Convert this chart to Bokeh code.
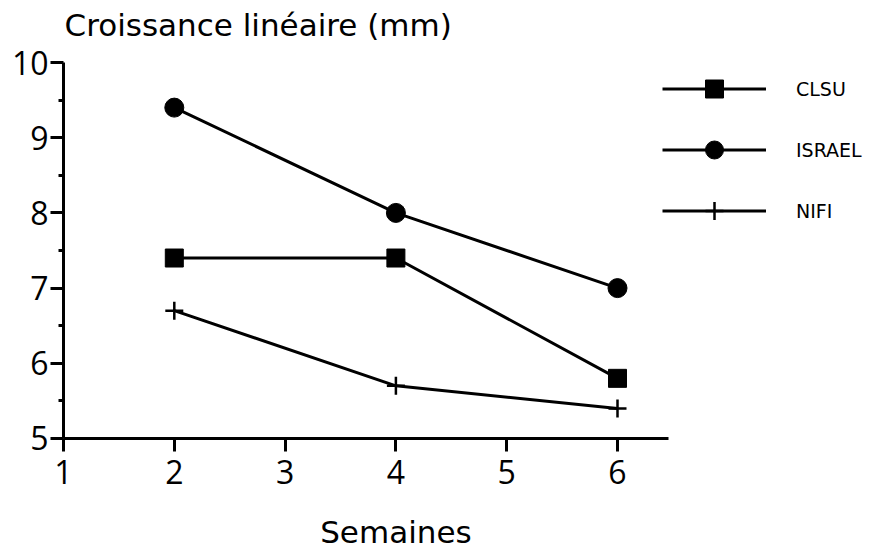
from bokeh.plotting import figure
from bokeh.models import Range1d, Legend, LegendItem, FixedTicker, Label
from bokeh.embed import file_html
from bokeh.resources import INLINE

# Weeks after planting and linear growth (mm) per variety
weeks = [2, 4, 6]
clsu = [7.4, 7.4, 5.8]
israel = [9.4, 8.0, 7.0]
nifi = [6.7, 5.7, 5.4]

x_ticks = [1, 2, 3, 4, 5, 6]
y_ticks = [5, 6, 7, 8, 9, 10]
y_minor = [5.5, 6.5, 7.5, 8.5, 9.5]

TICK_FONT = "Open Sans"
TEXT_FONT = "DejaVu Sans"

# The frame fills the whole canvas; axes are pinned at x=1 / y=5 and
# limited to their visible spans with `bounds`.
p = figure(width=883, height=550, output_backend="svg", toolbar_location=None,
           x_range=Range1d(0.4314, 8.4007), y_range=Range1d(3.5106, 10.8245),
           min_border_left=0, min_border_right=0, min_border_top=0,
           min_border_bottom=0, title=None)
p.outline_line_color = None
p.grid.visible = False
p.background_fill_color = "white"
p.border_fill_color = "white"

for ax in (p.xaxis[0], p.yaxis[0]):
    ax.axis_line_width = 3
    ax.axis_line_color = "black"
    ax.major_tick_line_width = 3
    ax.minor_tick_line_width = 3
    ax.major_tick_line_color = "black"
    ax.minor_tick_line_color = "black"
    ax.major_tick_in = 0
    ax.minor_tick_in = 0
    ax.major_label_text_font = TICK_FONT
    ax.major_label_text_font_size = "32px"
    ax.major_label_text_color = "black"

p.xaxis.ticker = FixedTicker(ticks=x_ticks)
p.xaxis.bounds = (1, 6.46)
p.xaxis.fixed_location = 5
p.xaxis.major_tick_out = 13
p.xaxis.minor_tick_out = 0
p.xaxis.major_label_standoff = 9

p.yaxis.ticker = FixedTicker(ticks=y_ticks, minor_ticks=y_minor)
p.yaxis.bounds = (5, 10)
p.yaxis.fixed_location = 1
p.yaxis.major_tick_out = 13
p.yaxis.minor_tick_out = 5
p.yaxis.major_label_standoff = 2

series = [("CLSU", clsu, "square", 18), ("ISRAEL", israel, "circle", 19),
          ("NIFI", nifi, "cross", 18)]
items = []
for name, vals, marker, size in series:
    ln = p.line(weeks, vals, line_color="black", line_width=3)
    if marker == "cross":
        sc = p.scatter(weeks, vals, marker=marker, size=size, line_color="black",
                       line_width=2.5)
    else:
        sc = p.scatter(weeks, vals, marker=marker, size=size, fill_color="black",
                       line_color="black", line_width=1)
    items.append(LegendItem(label=name, renderers=[ln, sc]))

legend = Legend(items=items, location=(662, 317), orientation="vertical",
                glyph_width=104, glyph_height=45, label_height=45,
                spacing=16, label_standoff=30, padding=2, margin=0,
                border_line_color=None, background_fill_alpha=0,
                label_text_font=TEXT_FONT, label_text_font_size="19px",
                label_text_color="black")
p.add_layout(legend, "center")

p.add_layout(Label(x=1, y=10.505, text="Croissance linéaire (mm)",
                   text_font=TEXT_FONT, text_font_size="31px",
                   text_color="black", text_baseline="alphabetic", x_offset=1))
p.add_layout(Label(x=4, y=3.75, text="Semaines", text_font=TEXT_FONT,
                   text_font_size="31px", text_color="black",
                   text_align="center", text_baseline="alphabetic"))

open("out.html", "w").write(file_html(p, INLINE))
